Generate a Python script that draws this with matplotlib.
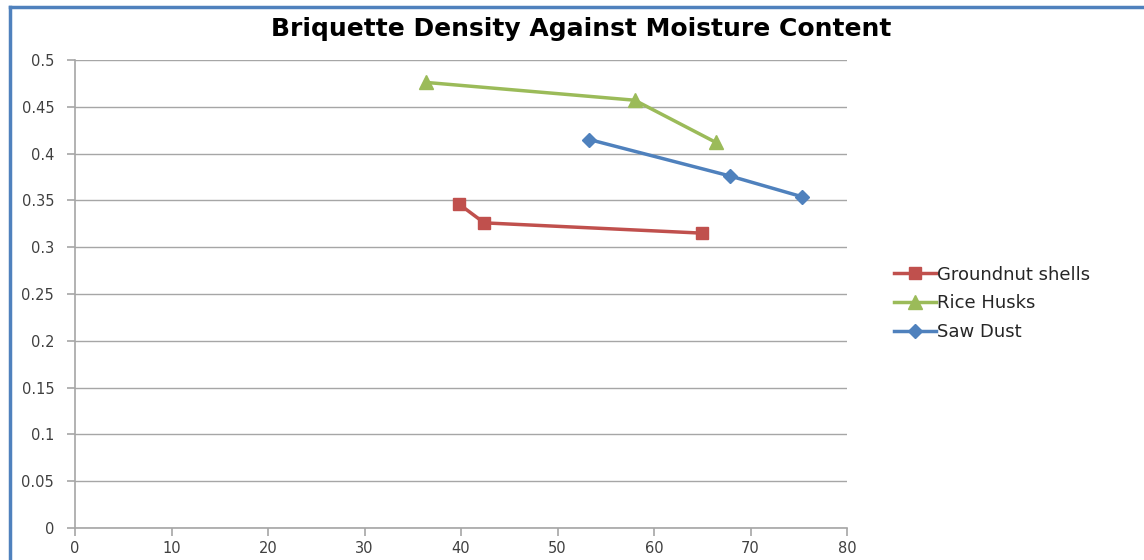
import matplotlib
matplotlib.use("Agg")
import matplotlib.pyplot as plt
from matplotlib.lines import Line2D

# moisture content (x) and density (y)
groundnut_x = [39.8, 42.4, 65.0]
groundnut_y = [0.346, 0.326, 0.315]
rice_x = [36.4, 58.0, 66.4]
rice_y = [0.476, 0.457, 0.412]
saw_x = [53.3, 67.9, 75.3]
saw_y = [0.415, 0.376, 0.354]

xticks = [0, 10, 20, 30, 40, 50, 60, 70, 80]
yticks = [0, 0.05, 0.1, 0.15, 0.2, 0.25, 0.3, 0.35, 0.4, 0.45, 0.5]
ytick_labels = ["0", "0.05", "0.1", "0.15", "0.2", "0.25", "0.3", "0.35", "0.4", "0.45", "0.5"]

plt.rcParams['font.family'] = ['DejaVu Sans']

fig = plt.figure(figsize=(11.44, 5.6), dpi=100)
ax = fig.add_axes([0.0656, 0.0571, 0.6748, 0.8358])

ax.plot(groundnut_x, groundnut_y, color="#c0504d", lw=2.5, marker="s", ms=9, label="Groundnut shells")
ax.plot(rice_x, rice_y, color="#9bbb59", lw=2.5, marker="^", ms=10, label="Rice Husks")
ax.plot(saw_x, saw_y, color="#4f81bd", lw=2.5, marker="D", ms=7, label="Saw Dust")

ax.set_xlim(0, 80)
ax.set_ylim(0, 0.5)
ax.set_xticks(xticks)
ax.set_yticks(yticks)
ax.set_yticklabels(ytick_labels)
ax.grid(axis="y", color="#a6a6a6", lw=1)
ax.set_axisbelow(True)
for s in ["top", "right"]:
    ax.spines[s].set_visible(False)
for s in ["left", "bottom"]:
    ax.spines[s].set_color("#a6a6a6")
    ax.spines[s].set_linewidth(1.2)
ax.tick_params(colors="#a6a6a6", labelcolor="#404040", labelsize=10.5, length=6, width=1.2)
ax.tick_params(axis="y", pad=9)
ax.tick_params(axis="x", pad=3)

fig.text(0.508, 0.948, "Briquette Density Against Moisture Content", ha="center", va="center",
         fontsize=18, fontweight="bold", color="#000000")

ax.legend(loc="center left", bbox_to_anchor=(1.04, 0.48), frameon=False, fontsize=13,
          handlelength=2.3, handletextpad=0.1, labelspacing=0.6, labelcolor="#262626")

# blue frame on top and left edges
fig.add_artist(Line2D([0.009, 1.0], [0.9875, 0.9875], color="#4f81bd", lw=2.5, transform=fig.transFigure))
fig.add_artist(Line2D([0.009, 0.009], [0.0, 0.9875], color="#4f81bd", lw=2.5, transform=fig.transFigure))

fig.savefig("out.png", dpi=100)
